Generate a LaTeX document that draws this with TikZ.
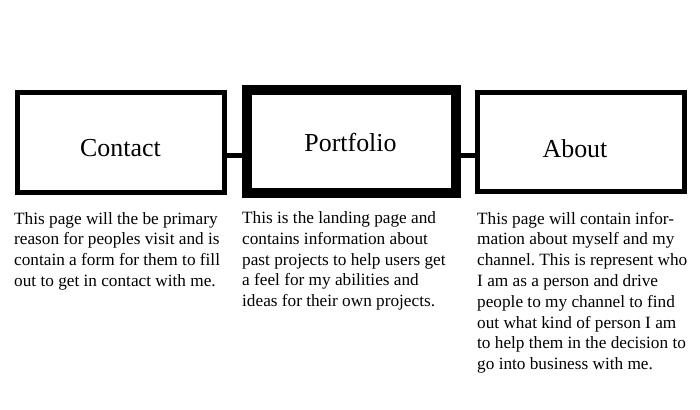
\documentclass[tikz,border=0pt]{standalone}
\usepackage{fontspec}
\setmainfont{Liberation Serif}
\frenchspacing
\begin{document}
\begin{tikzpicture}[x=1bp,y=-1bp,
  pagebox/.style={draw=black, line width=5bp, minimum width=#1, minimum height=100bp, inner sep=0, outer sep=0, anchor=north west},
  mainbox/.style={draw=black, line width=9.5bp, inner sep=0, outer sep=0, anchor=north west},
  lbl/.style={anchor=base, inner sep=0, font=\fontsize{26}{30}\selectfont},
  desc/.style={anchor=base west, inner sep=0, font=\fontsize{17.3}{20.9}\selectfont},
  conn/.style={draw=black, line width=5bp}]
\useasboundingbox (0,0) rectangle (700,409);

% page boxes
\node[pagebox=207bp] (contact) at (17.5,92.5) {};
\node[mainbox, minimum width=209bp, minimum height=103bp] (portfolio) at (247,90) {};
\node[pagebox=207bp, minimum height=99bp] (about) at (477.5,92.5) {};

% box titles
\node[lbl] (contactlbl) at (120.5,156) {Contact};
\node[lbl] (portfoliolbl) at (350.5,151) {Portfolio};
\node[lbl] (aboutlbl) at (575,157) {About};

% links between pages
\coordinate (rowy) at (0,155);
\draw[conn] (contact.east |- rowy) -- (portfolio.west |- rowy);
\draw[conn] (portfolio.east |- rowy) -- (about.west |- rowy);

% descriptions
\node[desc] (contacttxt) at (14,224) {\begin{tabular}[t]{@{}l@{}}
This page will the be primary\\
reason for peoples visit and is\\
contain a form for them to fill\\
out to get in contact with me.\end{tabular}};
\node[desc] (portfoliotxt) at (242,223.5) {\begin{tabular}[t]{@{}l@{}}
This is the landing page and\\
contains information about\\
past projects to help users get\\
a feel for my abilities and\\
ideas for their own projects.\end{tabular}};
\node[desc] (abouttxt) at (477,224) {\begin{tabular}[t]{@{}l@{}}
This page will contain infor-\\
mation about myself and my\\
channel. This is represent who\\
I am as a person and drive\\
people to my channel to find\\
out what kind of person I am\\
to help them in the decision to\\
go into business with me.\end{tabular}};
\end{tikzpicture}
\end{document}
